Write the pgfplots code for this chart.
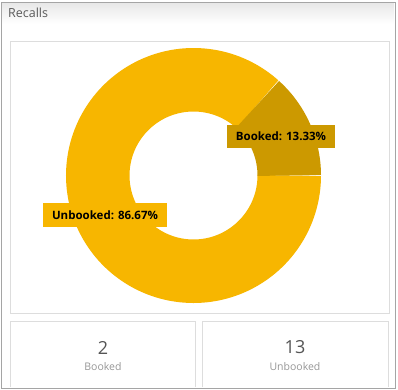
\documentclass[border=0pt]{standalone}
\usepackage{pgfplots}
\pgfplotsset{compat=1.18}
\usepackage{fontspec}
\setmainfont{Open Sans}
\definecolor{gold}{RGB}{247,182,0}
\definecolor{darkgold}{RGB}{204,153,0}
\definecolor{titlegray}{RGB}{90,90,90}
\definecolor{numgray}{RGB}{85,85,85}
\definecolor{lblgray}{RGB}{150,150,150}
\definecolor{boxgray}{RGB}{221,221,221}
\definecolor{panelgray}{RGB}{165,165,165}
% data
\def\booked{2}
\def\unbooked{13}
\pgfmathsetmacro{\angB}{360*\booked/(\booked+\unbooked)}
\begin{document}
\begin{tikzpicture}
\path[use as bounding box] (0,0) rectangle (398bp,390bp);
\begin{axis}[
  at={(0,0)}, anchor=south west,
  width=398bp, height=390bp, scale only axis,
  xmin=0, xmax=398, ymin=0, ymax=390, y dir=reverse,
  hide axis, clip=false]
% panel
\shade[top color=gray!18, bottom color=white] (axis cs:2,3) rectangle (axis cs:394,24);
\draw[panelgray, line width=1bp] (axis cs:1,2) rectangle (axis cs:395,388);
\node[anchor=west, text=titlegray, font=\fontsize{12.5bp}{15bp}\selectfont, inner sep=0pt] at (axis cs:8,12.5) {Recalls};
\draw[boxgray, line width=1bp] (axis cs:10,41) rectangle (axis cs:389,313);
\draw[boxgray, line width=1bp] (axis cs:10,387) -- (axis cs:10,321) -- (axis cs:195,321) -- (axis cs:195,387);
\draw[boxgray, line width=1bp] (axis cs:202,387) -- (axis cs:202,321) -- (axis cs:388,321) -- (axis cs:388,387);
% donut
\addplot[draw=gold, line width=63.5bp, domain=\angB:360, samples=150, variable=\t]
  ({193.5+95.75*cos(\t)},{175.5-95.75*sin(\t)});
\addplot[draw=darkgold, line width=63.5bp, domain=0:\angB, samples=40, variable=\t]
  ({193.5+95.75*cos(\t)},{175.5-95.75*sin(\t)});
% data labels
\node[fill=darkgold, minimum width=108bp, minimum height=23bp, inner sep=0pt,
  font=\fontsize{11.5bp}{14bp}\selectfont\bfseries] at (axis cs:281,136.5) {Booked: 13.33\%};
\node[fill=gold, minimum width=124bp, minimum height=24bp, inner sep=0pt,
  font=\fontsize{11.5bp}{14bp}\selectfont\bfseries] at (axis cs:105,215) {Unbooked: 86.67\%};
% summary boxes
\node[text=numgray, font=\fontsize{18bp}{20bp}\selectfont] at (axis cs:103,347.5) {\booked};
\node[text=lblgray, font=\fontsize{10.5bp}{12bp}\selectfont] at (axis cs:103,367) {Booked};
\node[text=numgray, font=\fontsize{18bp}{20bp}\selectfont] at (axis cs:295,347.5) {\unbooked};
\node[text=lblgray, font=\fontsize{10.5bp}{12bp}\selectfont] at (axis cs:295,367) {Unbooked};
\end{axis}
\end{tikzpicture}
\end{document}
